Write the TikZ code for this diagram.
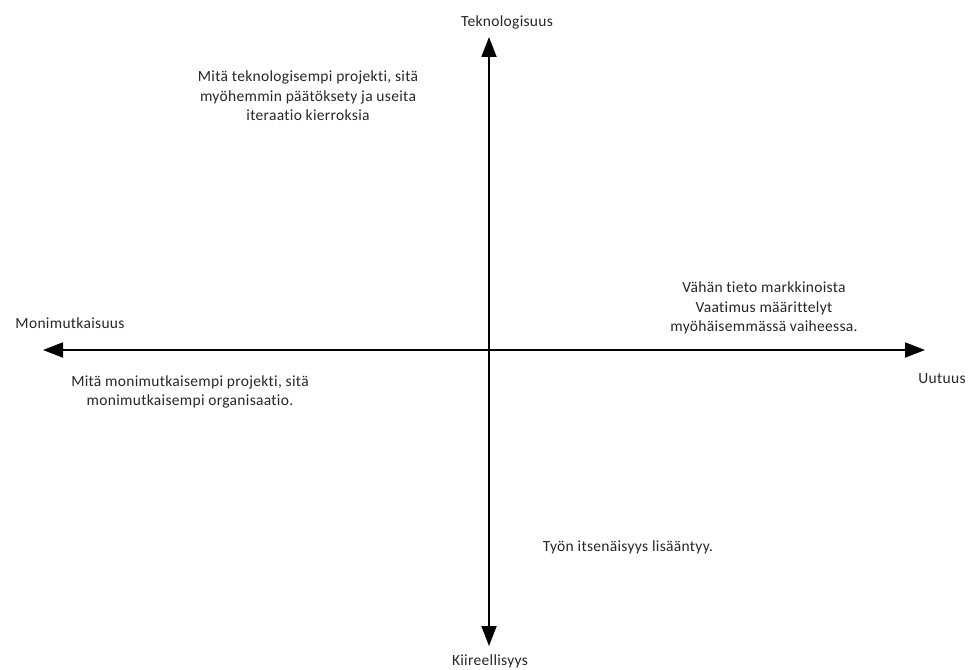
\documentclass[tikz,border=0pt]{standalone}
\usepackage{fontspec}
\setmainfont{Carlito}[LetterSpace=2,Ligatures=NoCommon]
\usetikzlibrary{arrows.meta}
\begin{document}
\begin{tikzpicture}[x=1pt,y=-1pt,
  axis/.style={line width=1.8pt,{Triangle[length=20pt,width=15pt]}-{Triangle[length=20pt,width=15pt]}},
  lbl/.style={font=\fontsize{15.5}{19.5}\selectfont, align=center, inner sep=0pt, text=black!85}]
\useasboundingbox (0,0) rectangle (968,669);
\coordinate (top) at (489,37);
\coordinate (bot) at (489,646);
\coordinate (lft) at (43,350);
\coordinate (rgt) at (925,350);
\draw[axis] (bot) -- (top);
\draw[axis] (lft) -- (rgt);
\node[lbl] (tek) at (507,22) {Teknologisuus};
\node[lbl] (kii) at (490,661) {Kiireellisyys};
\node[lbl] (mon) at (70,323) {Monimutkaisuus};
\node[lbl] (uut) at (942,379) {Uutuus};
\node[lbl] (t1) at (308,96) {Mitä teknologisempi projekti, sitä\\myöhemmin päätöksety ja useita\\iteraatio kierroksia};
\node[lbl] (t2) at (764,308) {Vähän tieto markkinoista\\Vaatimus määrittelyt\\myöhäisemmässä vaiheessa.};
\node[lbl] (t3) at (190,392) {Mitä monimutkaisempi projekti, sitä\\monimutkaisempi organisaatio.};
\node[lbl] (t4) at (628,547) {Työn itsenäisyys lisääntyy.};
\end{tikzpicture}
\end{document}
